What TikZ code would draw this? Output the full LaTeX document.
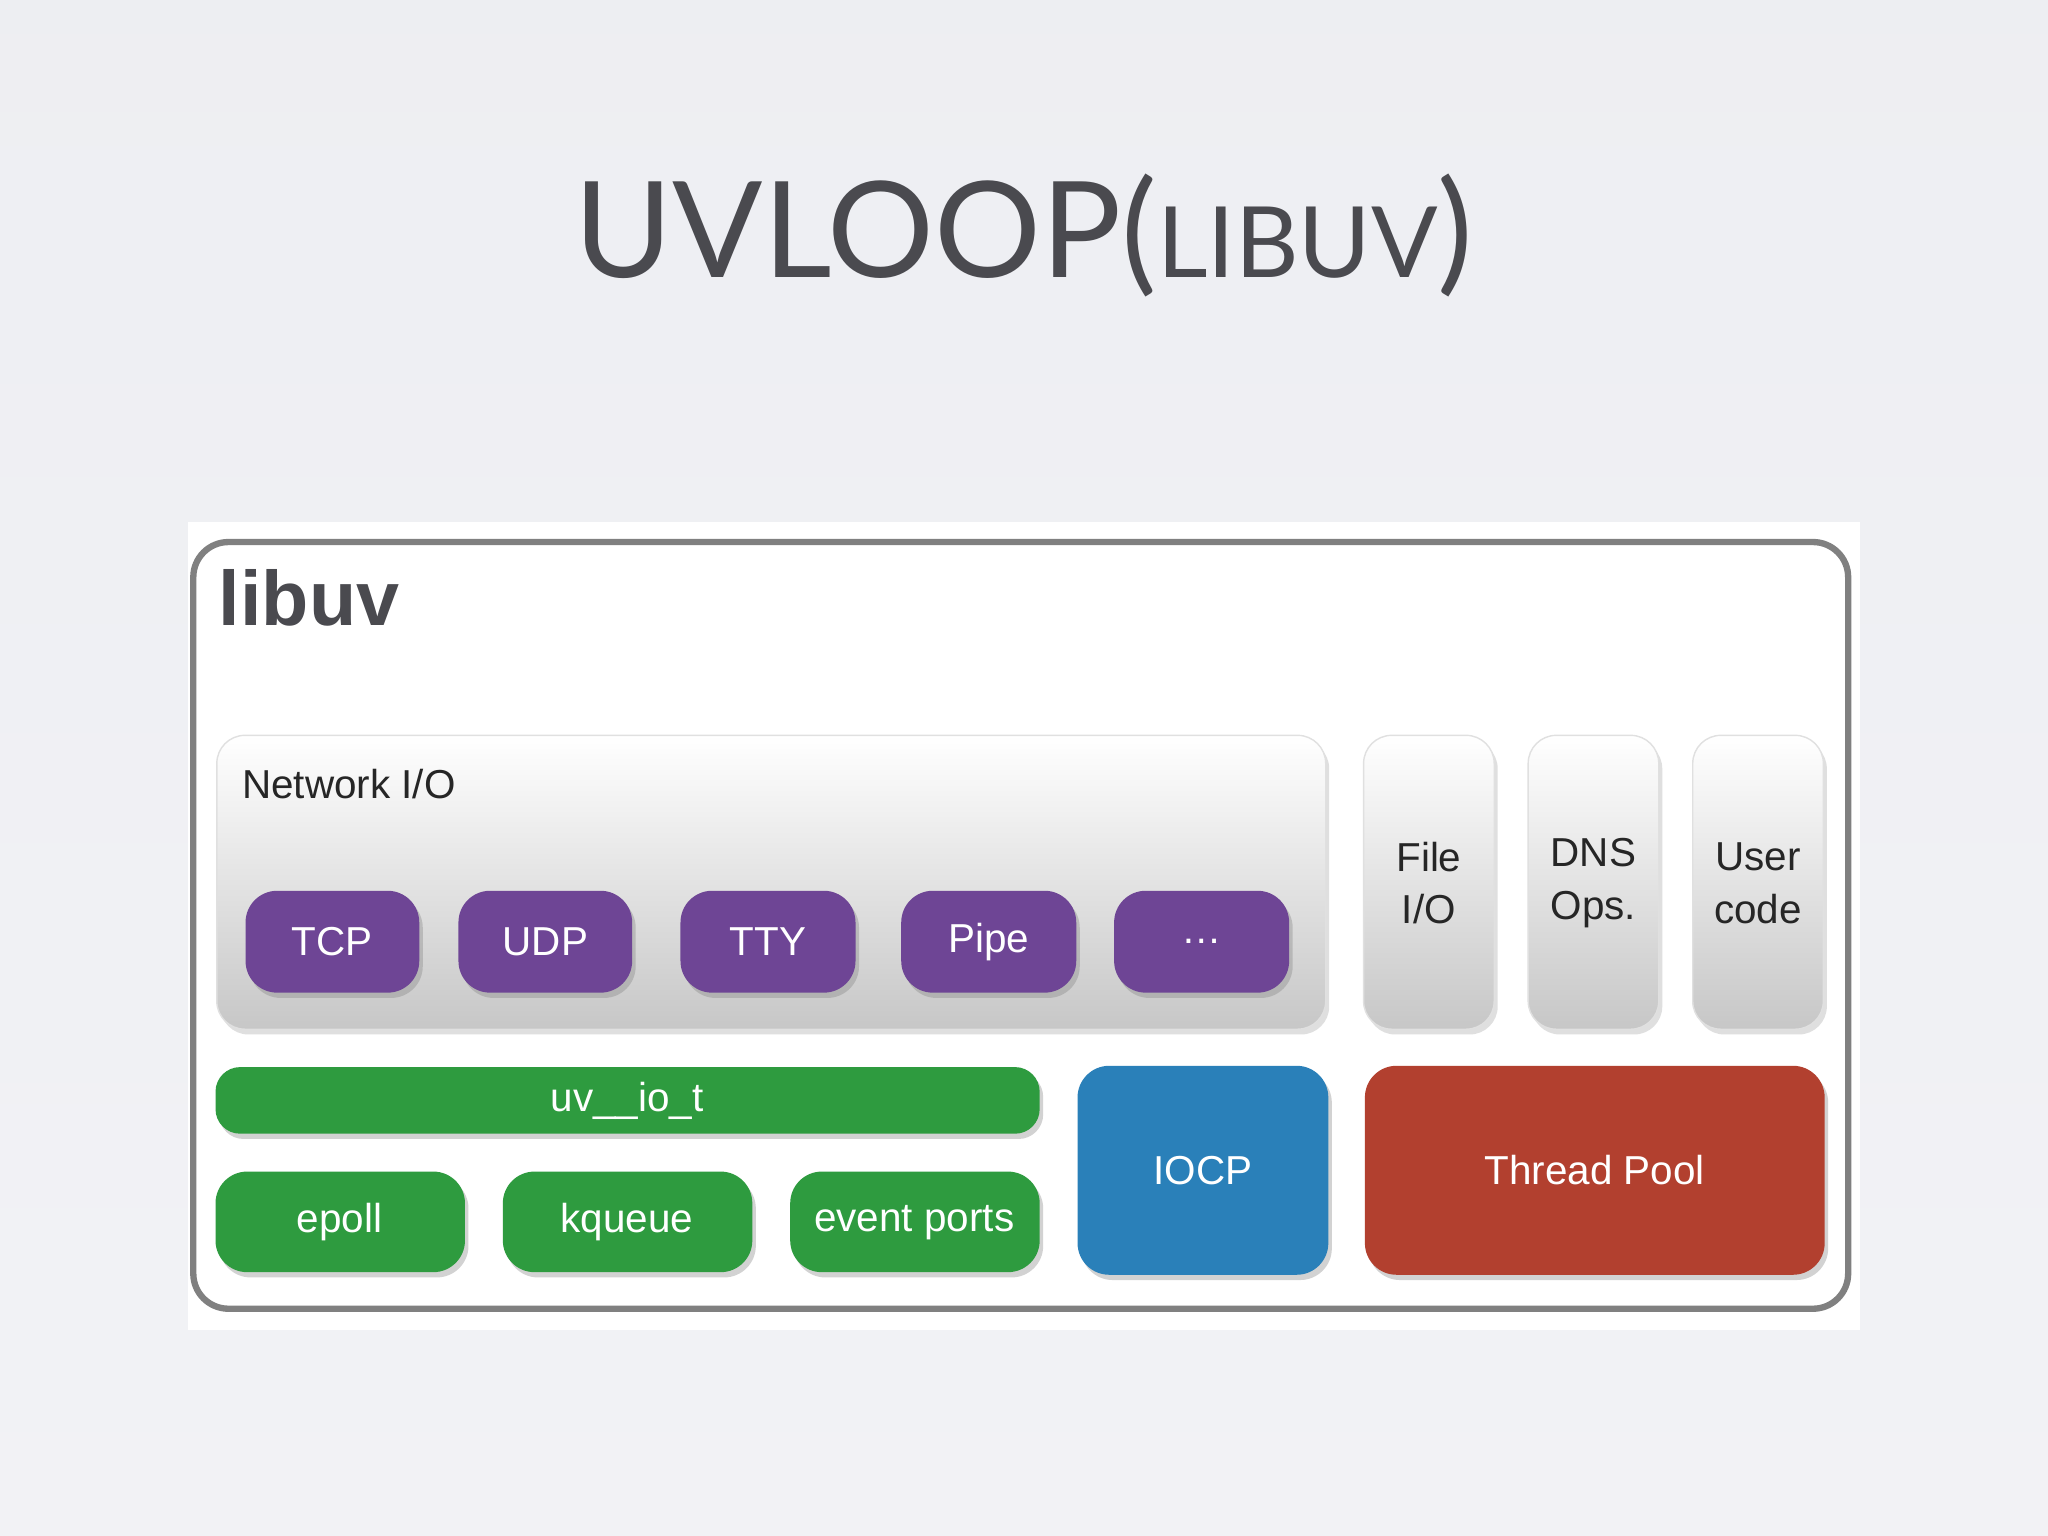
\documentclass[tikz,border=0pt]{standalone}
\usepackage{fontspec}
\setmainfont{Liberation Sans}
\newfontfamily\titlefont{Lato}
\usetikzlibrary{shadows}
\definecolor{bgc}{HTML}{E9EAEF}
\definecolor{purp}{HTML}{6E4595}
\definecolor{grn}{HTML}{2E9B3F}
\definecolor{blu}{HTML}{2A80B9}
\definecolor{redd}{HTML}{B2402F}
\definecolor{tgray}{HTML}{4A4A4F}
\tikzset{
 box/.style={rounded corners=9pt,drop shadow={opacity=0.35,shadow xshift=1pt,shadow yshift=-1.5pt}},
 lbl/.style={text=white,font=\fontsize{11.5}{14}\selectfont},
 gbox/.style={rounded corners=8pt,top color=white,bottom color=black!22,draw=black!12,drop shadow={opacity=0.25,shadow xshift=1pt,shadow yshift=-1.5pt}},
}
\begin{document}
\begin{tikzpicture}[x=0.013061cm,y=-0.013061cm]
\useasboundingbox (0,0) rectangle (1568,1176);
\shade[top color=bgc!80!white,bottom color=bgc!60!white] (0,0) rectangle (1568,1176);
\node[text=tgray,font=\titlefont\fontsize{38}{42}\selectfont] (title) at (784,180) {UVLOOP({\fontsize{28}{32}\selectfont LIBUV})};
\fill[white] (144,400) rectangle (1424,1018);
\draw[black!50,line width=1.8pt,rounded corners=10pt] (148,415) rectangle (1415,1002);
\node[anchor=west,text=tgray,font=\bfseries\fontsize{22}{26}\selectfont] (lib) at (158,458) {libuv};
\path[gbox] (166,563) rectangle (1015,788);
\node[anchor=west,font=\fontsize{11.5}{14}\selectfont,text=black!85] (net) at (176,600) {Network I/O};
\foreach \a/\b/\t/\n in {188/321/TCP/tcp,351/484/UDP/udp,521/655/TTY/tty,690/824/Pipe/pipe,853/987/\dots/dots}{
 \path[box,fill=purp] (\a,682) rectangle (\b,760);
 \node[lbl] (\n) at ({(\a+\b)/2},721) {\t};
}
\foreach \a/\t/\n in {1044/{File\\I/O}/file,1170/{DNS\\Ops.}/dns,1296/{User\\code}/user}{
 \path[gbox] (\a,563) rectangle (\a+100,788);
 \node[align=center,font=\fontsize{11.5}{15}\selectfont,text=black!85] (\n) at (\a+50,676) {\t};
}
\path[box,fill=grn,rounded corners=7pt] (165,817) rectangle (796,868);
\node[lbl] (uvio) at (480,843) {uv\_\_io\_t};
\foreach \a/\t/\n in {165/epoll/ep,385/kqueue/kq,605/event ports/evp}{
 \path[box,fill=grn] (\a,897) rectangle (\a+191,974);
 \node[lbl] (\n) at (\a+95,936) {\t};
}
\path[box,fill=blu] (825,816) rectangle (1017,976);
\node[lbl] (iocp) at (921,896) {IOCP};
\path[box,fill=redd] (1045,816) rectangle (1397,976);
\node[lbl] (tp) at (1221,896) {Thread Pool};
\end{tikzpicture}
\end{document}
